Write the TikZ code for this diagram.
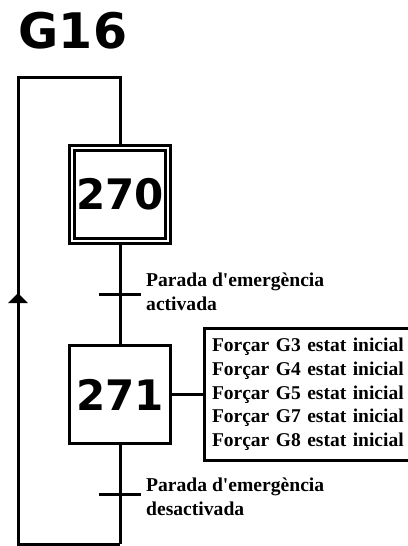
\documentclass[tikz,border=0pt]{standalone}
\usepackage{fontspec}
\setmainfont{Liberation Serif}[Ligatures=TeXOff]
\newfontfamily\grafcetfont{DejaVu Sans}
\usetikzlibrary{arrows.meta}
\begin{document}
\begin{tikzpicture}[x=1pt,y=-1pt,
  link/.style={line width=3pt},
  stepbox/.style={draw, line width=3pt, minimum width=100.5pt, minimum height=98pt, inner sep=0pt, font=\grafcetfont\bfseries\fontsize{42}{42}\selectfont},
  initstep/.style={stepbox, double, double distance=2.2pt, minimum width=95.5pt, minimum height=93pt},
  transbar/.style={inner sep=0pt, minimum width=41pt, minimum height=0pt},
  translabel/.style={anchor=north west, inner sep=0pt, align=left, font=\bfseries\fontsize{19.6}{24.3}\selectfont},
  actionbox/.style={draw, line width=3pt, anchor=west, inner xsep=7.5pt, text width=215pt, minimum height=132pt, align=left, font=\bfseries\fontsize{19.5}{23.7}\selectfont}]
\useasboundingbox (0,0) rectangle (407,546);
\node[anchor=base west, inner sep=0pt, font=\grafcetfont\bfseries\fontsize{49}{49}\selectfont] (title) at (18.5,48) {G16};
\node[initstep] (s270) at (120,194.5) {270};
\node[stepbox] (s271) at (120,394.5) {271};
\node[transbar] (t1) at (120,294.3) {};
\node[transbar] (t2) at (120,494) {};
\node[translabel] (c1) at (146,272.5) {Parada d'emergència\\activada};
\node[translabel] (c2) at (146,477.5) {Parada d'emergència\\desactivada};
\node[actionbox] (a271) at (203,394.5) {Forçar G3 estat inicial\\Forçar G4 estat inicial\\Forçar G5 estat inicial\\Forçar G7 estat inicial\\Forçar G8 estat inicial};
\coordinate (bot) at (120,544);
\coordinate (loopbl) at (18,544);
\coordinate (looptl) at (18,77);
\coordinate (top) at (120,77);
\coordinate (arrowtip) at (18,293);
% links between steps
\draw[link] (s270.south) -- (t1.center) -- (s271.north);
\draw[link] (s271.south) -- (t2.center) -- (bot);
\draw[link] (t1.west) -- (t1.east);
\draw[link] (t2.west) -- (t2.east);
\draw[link] (s271.east) -- (a271.west);
% return loop
\draw[link, line join=miter] (bot) -- (loopbl) -- (arrowtip);
\draw[link, -{Triangle[width=19pt,length=10pt]}] (loopbl) -- (arrowtip);
\draw[link, line join=miter] (arrowtip) -- (looptl) -- (top) -- (s270.north);
\end{tikzpicture}
\end{document}
